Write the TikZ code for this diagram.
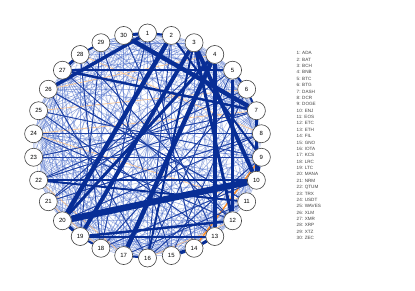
\documentclass[tikz,border=0pt]{standalone}
\usepackage{fontspec}
\setmainfont{Liberation Sans}
\usetikzlibrary{backgrounds}
\definecolor{dkblue}{RGB}{8,46,150}
\definecolor{mdblue}{RGB}{30,65,165}
\definecolor{ltblue}{RGB}{70,105,200}
\definecolor{orng}{RGB}{250,140,40}
\definecolor{ltorng}{RGB}{252,200,150}
\tikzset{
  vtx/.style={circle,draw=black!75,line width=0.6pt,fill=white,minimum size=18pt,inner sep=0pt,font=\fontsize{6}{6}\selectfont},
  legtxt/.style={anchor=west,inner sep=0pt,font=\fontsize{4.6}{5}\selectfont,text=black!75},
  thinedge/.style={ltblue,line width=#1},
  midedge/.style={mdblue,line width=#1},
  bigedge/.style={dkblue,line width=#1},
  oedge/.style={ltorng,line width=#1}
}
\begin{document}
\begin{tikzpicture}[x=1pt,y=-1pt]
\useasboundingbox (0,0) rectangle (415,291);
\foreach \k in {1,...,30}{
  \pgfmathsetmacro{\ang}{90-12*(\k-1)}
  \node[vtx] (n\k) at ({147.5+114.5*cos(\ang)},{145.5-112.5*sin(\ang)}) {\k};
}
\foreach \k/\nm in {1/ADA,2/BAT,3/BCH,4/BNB,5/BTC,6/BTG,7/DASH,8/DCR,9/DOGE,10/ENJ,11/EOS,12/ETC,13/ETH,14/FIL,15/GNO,16/IOTA,17/KCS,18/LRC,19/LTC,20/MANA,21/NRM,22/QTUM,23/TRX,24/USDT,25/WAVES,26/XLM,27/XMR,28/XRP,29/XTZ,30/ZEC}{
  \node[legtxt] (leg\k) at (296.5,{53.3+6.37*(\k-1)}) {\k: \nm};
}
\begin{pgfonlayer}{background}
\pgfmathsetseed{4711}
\foreach \i in {1,...,29}{
  \pgfmathtruncatemacro{\s}{\i+1}
  \foreach \j in {\s,...,30}{
    \pgfmathsetmacro{\r}{rnd}
    \pgfmathsetmacro{\w}{0.3+0.6*rnd}
    \pgfmathsetmacro{\op}{0.3+0.35*rnd}
    \ifdim\r pt<0.72pt
      \draw[thinedge=\w pt,opacity=\op] (n\i) -- (n\j);
    \fi
  }
}
\foreach \a/\b in {25/6,24/7,22/17,18/21,26/4,23/9,28/8,24/11,16/12}{
  \draw[oedge=0.7pt] (n\a) -- (n\b);
}
\draw[orng,line width=1.4pt] (n9) -- (n14);
\foreach \a/\b in {27/12,23/9,24/8,28/12,26/11,21/8,25/13,29/15,30/13,1/14,22/6,21/4,23/7,18/10,17/11,16/9,15/6,26/16,28/18,29/19,2/16,5/16,6/18,8/20,11/26,12/24,25/9,1/18,5/21,7/22}{
  \draw[midedge=0.9pt] (n\a) -- (n\b);
}
\foreach \a/\b/\w in {20/10/6.5,2/20/4.5,4/17/4.5,30/7/4.5,3/19/4,3/10/4,4/13/3.5,3/12/3,1/26/3.5,27/5/2.5,27/7/2.5,7/10/3,5/12/2.5,19/12/2.5,22/11/2,22/10/2,20/4/3,2/9/2,30/1/3,27/28/3,28/29/2,13/14/3,14/15/3.5,19/20/3,9/10/2.5,5/6/2,6/7/2,1/2/2,16/17/2,18/19/2,19/13/2,3/16/2}{
  \draw[bigedge=\w pt] (n\a) -- (n\b);
}
\end{pgfonlayer}
\end{tikzpicture}
\end{document}
